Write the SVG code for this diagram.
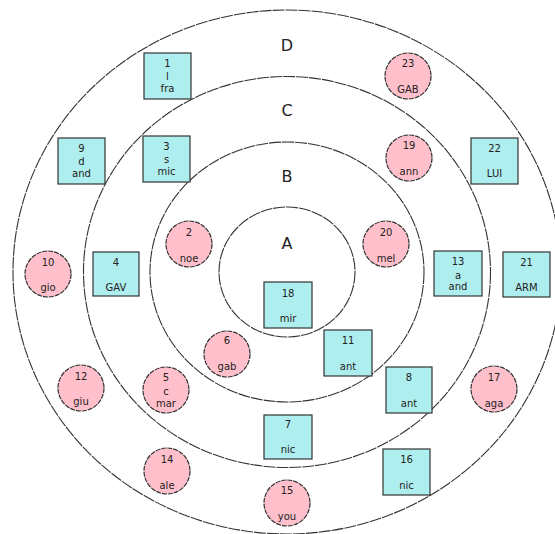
<svg xmlns="http://www.w3.org/2000/svg" width="555" height="534" viewBox="0 0 555 534">
<style>
.ring{fill:none;stroke:#333;stroke-width:1.1;stroke-dasharray:12,1}
.sq{fill:#AFEEEE;stroke:#333;stroke-width:1.2}
.ci{fill:#FFC0CB;stroke:#333;stroke-width:1.2;stroke-dasharray:5,1}
text{font-family:"DejaVu Sans",Verdana,sans-serif;font-size:10px;fill:#222;text-anchor:middle}
.big{font-size:16px}
</style>
<rect width="555" height="534" fill="#fff"/>
<g id="rings">
<ellipse class="ring" cx="287" cy="272" rx="274" ry="262"/>
<ellipse class="ring" cx="287" cy="272" rx="203.5" ry="195.5"/>
<ellipse class="ring" cx="287" cy="272" rx="137" ry="130"/>
<ellipse class="ring" cx="287" cy="272" rx="68" ry="65"/>
</g>
<g id="ring-labels">
<text class="big" x="287" y="51">D</text>
<text class="big" x="287" y="116">C</text>
<text class="big" x="287" y="182">B</text>
<text class="big" x="287" y="249">A</text>
</g>
<g id="connectors"></g>
<g id="n1"><rect class="sq" x="144" y="53" width="47" height="46"/><text x="167.5" y="67">1</text><text x="167.5" y="80">l</text><text x="167.5" y="92">fra</text></g>
<g id="n9"><rect class="sq" x="58" y="138" width="47" height="46"/><text x="81.5" y="152">9</text><text x="81.5" y="165">d</text><text x="81.5" y="177">and</text></g>
<g id="n3"><rect class="sq" x="143" y="136" width="47" height="46"/><text x="166.5" y="150">3</text><text x="166.5" y="163">s</text><text x="166.5" y="175">mic</text></g>
<g id="n22"><rect class="sq" x="471" y="138" width="47" height="46"/><text x="494.5" y="152">22</text><text x="494.5" y="177">LUI</text></g>
<g id="n4"><rect class="sq" x="93" y="252" width="46" height="44"/><text x="116" y="266">4</text><text x="116" y="291">GAV</text></g>
<g id="n13"><rect class="sq" x="434" y="251" width="48" height="45"/><text x="458" y="265">13</text><text x="458" y="279">a</text><text x="458" y="290">and</text></g>
<g id="n21"><rect class="sq" x="503" y="252" width="47" height="45"/><text x="526.5" y="266">21</text><text x="526.5" y="291">ARM</text></g>
<g id="n18"><rect class="sq" x="264" y="282" width="48" height="46"/><text x="288" y="297">18</text><text x="288" y="322">mir</text></g>
<g id="n11"><rect class="sq" x="324" y="330" width="48" height="46"/><text x="348" y="344">11</text><text x="348" y="370">ant</text></g>
<g id="n8"><rect class="sq" x="386" y="367" width="46" height="46"/><text x="409" y="381">8</text><text x="409" y="407">ant</text></g>
<g id="n7"><rect class="sq" x="264" y="415" width="48" height="44"/><text x="288" y="428">7</text><text x="288" y="453">nic</text></g>
<g id="n16"><rect class="sq" x="383" y="449" width="47" height="46"/><text x="406.5" y="463">16</text><text x="406.5" y="489">nic</text></g>
<g id="n23"><circle class="ci" cx="408" cy="76" r="23"/><text x="408" y="67">23</text><text x="408" y="93">GAB</text></g>
<g id="n19"><circle class="ci" cx="409" cy="158" r="23"/><text x="409" y="149">19</text><text x="409" y="175">ann</text></g>
<g id="n10"><circle class="ci" cx="48" cy="274" r="23"/><text x="48" y="266">10</text><text x="48" y="291">gio</text></g>
<g id="n2"><circle class="ci" cx="189" cy="244" r="23"/><text x="189" y="236">2</text><text x="189" y="262">noe</text></g>
<g id="n20"><circle class="ci" cx="386" cy="244" r="23"/><text x="386" y="236">20</text><text x="386" y="262">mel</text></g>
<g id="n6"><circle class="ci" cx="227" cy="354" r="23"/><text x="227" y="344">6</text><text x="227" y="370">gab</text></g>
<g id="n12"><circle class="ci" cx="81" cy="388" r="23"/><text x="81" y="380">12</text><text x="81" y="405">giu</text></g>
<g id="n5"><circle class="ci" cx="166" cy="390" r="23"/><text x="166" y="381">5</text><text x="166" y="395">c</text><text x="166" y="407">mar</text></g>
<g id="n17"><circle class="ci" cx="494" cy="389" r="23"/><text x="494" y="381">17</text><text x="494" y="407">aga</text></g>
<g id="n14"><circle class="ci" cx="167" cy="471" r="23"/><text x="167" y="463">14</text><text x="167" y="489">ale</text></g>
<g id="n15"><circle class="ci" cx="287" cy="503" r="23"/><text x="287" y="494">15</text><text x="287" y="520">you</text></g>
</svg>
